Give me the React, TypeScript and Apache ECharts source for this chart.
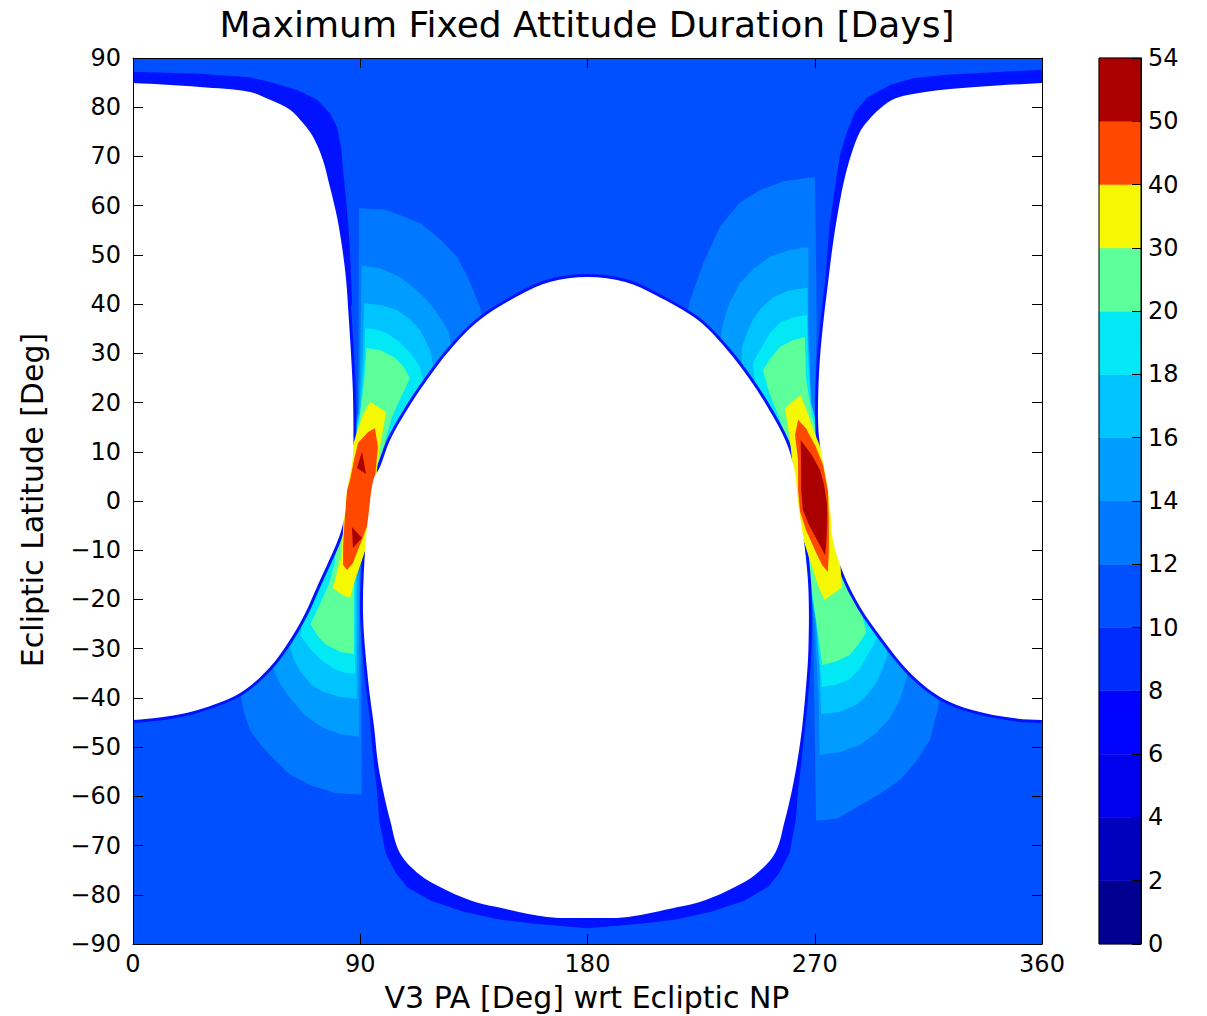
import React, { useEffect, useRef } from "react";
import * as echarts from "echarts";

// ---------- axis / colorbar data ----------
const xTicks = [0, 90, 180, 270, 360];
const yRange = [-90, 90];
const cbLabels = ["0", "2", "4", "6", "8", "10", "12", "14", "16", "18", "20", "30", "40", "50", "54"];
const levelColors = [
  "#000091", "#0000bf", "#0000ed", "#0004ff", "#002cff", "#0050ff", "#0078ff",
  "#009cff", "#00c4ff", "#02e8f4", "#5dff9a", "#f5f802", "#ff4900", "#aa0000",
];
const HALO = "#0012ff";

// ---------- contour region outlines (PA deg, latitude deg) ----------
const fullArea = [[0, -90], [360, -90], [360, 90], [0, 90]];

const whiteLeft = [
  [-5, 84.9], [0, 84.9], [26.5, 84.1], [46.3, 83.1], [54.3, 81.5], [62.2, 79.5], [67.3, 76.8], [71.3, 74.0],
  [75.2, 69.3], [78.0, 63.8], [80.8, 57.7], [82.8, 51.6], [84.4, 44.9], [85.5, 36.8], [86.5, 28.5],
  [87.1, 22], [87.3, 15], [87.1, 9], [86, 5.5], [84.8, 2.5], [84.3, 0], [84.0, -2.4], [82.7, -5.6],
  [80.5, -8.8], [77.2, -12.6], [73, -17.3], [68.1, -22.9], [62.2, -28.2], [54.3, -33.7], [42.4, -39.0],
  [25.3, -42.5], [11.9, -43.9], [0, -44.5], [-5, -44.5],
];
const whiteRight = [
  [365, 84.9], [360, 84.9], [333.5, 84.1], [313.7, 83.1], [302, 81.8], [296, 79.8], [291, 77.2], [287.9, 75.0],
  [284.5, 70.5], [281.5, 64.8], [279, 58.1], [277, 51.5], [275.3, 44.5], [273.5, 36.8], [272, 28.6],
  [271.3, 20], [271.5, 14], [272.5, 10], [274, 6], [275.2, 2.5], [275.7, 0], [276.2, -2.4],
  [277.2, -7.9], [281.2, -14.6], [287.9, -21.5], [297, -28.2], [307.7, -34.9], [319.6, -39.8],
  [332.7, -42.5], [348.5, -44.1], [360, -44.5], [365, -44.5],
];
const whiteCenter = [
  [180, -84.7], [164, -84.5], [144.2, -82.5], [133.5, -81.1], [121.6, -78.4], [113.7, -76.0],
  [105.7, -71.5], [101.8, -64.8], [99, -58.7], [97, -53.2], [95.5, -46], [93.1, -36.4], [91.1, -22.8],
  [92, -9.3], [93.5, -1.8], [95.2, 4.3], [97.8, 6.9], [101.8, 12.4], [108.5, 18.5], [116.4, 24.6],
  [125.5, 30.7], [137.4, 36.8], [153.3, 41.9], [165, 44.5], [180, 45.5], [195, 44.5], [206.7, 41.9],
  [223.6, 36.8], [235, 30.9], [244, 24.9], [252, 18.5], [258.6, 12.1], [262, 6.3], [263, 2],
  [263.8, -1.8], [266, -9.3], [267.5, -18], [267.5, -30], [266.5, -38], [265, -46], [263, -53.2],
  [261, -58.7], [258.2, -64.8], [254.3, -71.5], [246.3, -76.0], [238.4, -78.4], [226.5, -81.1],
  [215.8, -82.5], [196, -84.5],
];

const haloLeftTop = [
  [0, 87.2], [26.5, 86.8], [46.3, 86.1], [54.3, 85.1], [65.0, 83.5], [72.9, 81.5], [78.0, 78.8],
  [80.8, 76.0], [82.4, 71.9], [83.2, 67.2], [84.4, 61.2], [85.9, 51.6], [86.8, 40], [84, 38], [0, 80],
];
const haloRightTop = [
  [360, 87.6], [322.4, 86.6], [308.9, 85.9], [299.8, 84.5], [290.7, 81.9], [285.9, 79.0], [282.8, 75.0],
  [280, 70.3], [278, 63.6], [276, 56.7], [274.9, 50.0], [274.1, 43.3], [273, 38], [276, 38], [360, 80],
];
const haloCenterBottom = [
  [93.5, -40], [94, -46], [95.3, -53.2], [96.6, -58.7], [97.5, -64.8], [100, -71.5], [104, -75.5],
  [108.5, -78.4], [118, -81.2], [130.7, -83.4], [145, -85], [157.2, -85.8], [180, -86.8], [202.8, -85.8],
  [215, -85], [229.3, -83.4], [242, -81.2], [251.5, -78.4], [256, -75.5], [260, -71.5], [262.5, -64.8],
  [263.4, -58.7], [264.7, -53.2], [266, -46], [266.5, -40], [180, -40],
];

// filled regions: value >= 12, 14, 16, 18, 20 (left fan pair near PA 90)
const fanL12 = [
  [89.5, 59.5], [100, 59.2], [113.7, 56.5], [122, 53], [128.3, 49.6], [133, 45], [137.4, 39.4], [140, 33],
  [115, 12], [100, 0], [96, -10], [90.5, -12], [90.5, -59.7], [80, -59.3], [70.1, -57.7], [62, -55.5],
  [56.2, -52.6], [50.5, -49.5], [46.3, -46.5], [44, -43], [42.4, -39.0], [50, -30], [70, -10], [80, 0],
  [86, 10], [89, 18], [89.3, 30], [89.4, 45],
];
const fanL14 = [
  [90.5, 47.9], [98, 47.3], [105.7, 45.5], [112, 43], [117.6, 40.2], [122, 37], [124.8, 34.7], [127, 29],
  [108, 12], [98, 0], [95, -10], [89.6, -12], [89.6, -47.9], [82, -47.4], [75, -46], [68, -43.5],
  [62.4, -40.2], [58, -37], [55.4, -33.9], [60, -25], [75, -5], [83, 5], [86, 10], [89.3, 18], [90, 30],
];
const fanL16 = [
  [91.5, 40.2], [98, 39.8], [104.6, 38.8], [109.5, 37], [113.7, 34.7], [116, 32.5], [117.6, 30.7], [120, 25],
  [105, 10], [97, 0], [94.5, -10], [88.8, -12], [88.6, -40.2], [82, -39.8], [75.4, -38.8], [71, -37.5],
  [66.3, -34.7], [64, -32.5], [62.2, -29.7], [65, -22], [75, -5], [83, 5], [86, 10], [89.5, 18], [91, 30],
];
const fanL18 = [
  [92, 35.1], [96, 34.9], [100.6, 34.1], [105.5, 32.3], [109.7, 30.1], [113.7, 27.2], [116, 22], [103, 8],
  [96.5, 0], [94, -10], [88.2, -12], [88, -35.1], [84, -34.9], [79.4, -34.1], [74.5, -32.3], [70.3, -30.1],
  [66.3, -27.2], [69, -19], [76, -6], [83, 5], [86, 10], [90, 18], [91.5, 28],
];
const fanL20 = [
  [92.5, 31.1], [97.8, 30.7], [103.8, 29.1], [107, 27.3], [109.7, 25.0], [106, 21], [102.5, 17], [100, 12.5],
  [97, 2], [93.5, -10], [87.6, -13], [87.5, -31.1], [82.2, -30.7], [76.2, -29.1], [73, -27.3], [70.3, -25.0],
  [74, -21], [77.5, -17], [80, -12.5], [79, -2], [83, 5], [86.5, 10], [89.5, 16], [91.5, 24],
];
const yellowL = [
  [93.9, 20.1], [100.2, 18.1], [99.0, 14.4], [97.8, 11.0], [96.6, 6.3], [95.8, 0.2], [94.7, -3.9],
  [92.7, -8.9], [90.7, -12.0], [87.9, -16.1], [85.9, -19.7], [82.4, -18.9], [79.2, -17.7], [80.8, -14.4],
  [82.4, -11.0], [83.2, -5.9], [83.6, 0.2], [84.4, 5.3], [86.0, 9.3], [88.3, 13.4], [91.1, 17.5],
];
const orangeL = [
  [95.8, 14.8], [97.0, 11.0], [95.8, 4.3], [94.7, -2.4], [91.1, -7.3], [87.1, -12.6], [84.8, -14.0],
  [83.2, -13.0], [83.2, -9.3], [84.0, -2.4], [84.8, 2.2], [86.0, 4.3], [87.5, 8.3], [89.1, 11.8], [93.1, 14.0],
];
const redL1 = [[90.7, 10.0], [92.3, 5.5], [88.7, 6.7]];
const redL2 = [[86.7, -5.3], [90.7, -7.5], [87.1, -9.5]];

// right fan pair near PA 270
const fanR12 = [
  [270, 65.8], [258, 65], [248.3, 63.2], [240, 60.5], [232.5, 55.7], [226, 48.5], [220.6, 40.8], [218, 35],
  [250, 12], [260, 0], [265, -10], [268.5, -12], [269.5, -30], [270.5, -65], [279, -64.5], [287.9, -61.8],
  [296, -59.5], [303.8, -56.7], [310, -53], [315.6, -48.6], [318.4, -43], [319.4, -40.8], [310, -30],
  [285, -10], [277, 0], [273.5, 10], [270, 20], [270.8, 35], [270.5, 50],
];
const fanR14 = [
  [267.5, 51.6], [260, 51], [252.3, 49.6], [246, 47.3], [240.4, 44.3], [236, 40], [233.3, 35.4], [232, 30],
  [250, 10], [261, 0], [265.5, -10], [267.5, -14], [270, -25], [271.5, -40], [272, -51.6], [280, -51],
  [287.7, -49.6], [294, -47.3], [299.6, -44.3], [304, -40], [306.7, -35.4], [300, -25], [284, -10],
  [277, 0], [273.5, 10], [268.5, 20], [267.5, 35],
];
const fanR16 = [
  [267.2, 43.3], [260, 42.8], [253.5, 41.4], [249, 39.3], [245.5, 36.8], [243, 34], [241.2, 31.3], [241, 25],
  [252, 10], [261, 0], [265.5, -10], [267, -13], [270.5, -25], [272, -35], [272.5, -43.3], [280, -42.8],
  [286.5, -41.4], [291, -39.3], [294.5, -36.8], [297, -34], [298.8, -31.3], [295, -22], [283, -8],
  [277, 0], [273.5, 10], [268.5, 20], [267.2, 35],
];
const fanR18 = [
  [267, 37.8], [262, 37.4], [256.2, 36.2], [252, 34], [249.1, 31.3], [247, 29.5], [245.5, 28.0], [247, 20],
  [254, 8], [261, 0], [265.5, -10], [266.5, -12], [270.5, -24], [272.8, -37.8], [278, -37.4], [283.8, -36.2],
  [288, -34], [290.9, -31.3], [293, -29.5], [294.5, -28.0], [290, -18], [282, -6], [277, 0], [273.5, 10],
  [268.5, 20], [267.2, 30],
];
const fanR20 = [
  [266.1, 33.3], [261, 32.6], [256.2, 31.3], [252.5, 29], [249.5, 26.6], [252, 22], [255.5, 17.5],
  [258.5, 13], [262, 2], [265.5, -10], [268.5, -17], [270.5, -24], [273, -33.3], [278.5, -32.6],
  [283.8, -31.3], [287.5, -29], [290.5, -26.6], [288, -22], [284.5, -17.5], [281.5, -13], [278, 0],
  [274, 8], [269, 17], [266.5, 25],
];
const yellowR = [
  [264.4, 21.5], [266.7, 18.5], [269.5, 14.4], [273.5, 9.3], [276.8, 4.3], [278.4, -3.9], [280, -12.0],
  [280.8, -17.5], [273.8, -20.1], [271.3, -17.1], [268.1, -12.0], [264.2, -5.9], [262.2, 0.2], [261.4, 6.3],
  [260.2, 12.4], [258.2, 18.9],
];
const orangeR = [
  [263.4, 16.5], [266.5, 14.8], [270.1, 11.4], [273.3, 7.3], [275.2, 2.2], [275.6, -3.9], [275.6, -10.0],
  [275.2, -14.4], [272.9, -13.0], [270.1, -10.0], [266.5, -5.9], [264.2, -2.2], [263.4, 2.2], [263.4, 8.3],
  [262.2, 13.4],
];
const redR = [
  [264.4, 12.4], [268.9, 9.3], [272.1, 6.3], [273.7, 3.3], [274.9, -0.8], [274.9, -4.9], [274.5, -8.9],
  [274.1, -11.0], [270.9, -7.9], [267.7, -4.9], [265.3, -1.8], [264.6, 2.2], [264.6, 7.3],
];

type Layer = { pts: number[][]; fill?: string; stroke?: string; lw?: number; smooth?: number };
const C = levelColors;
const SM = 0.35;
const layers: Layer[] = [
  { pts: fullArea, fill: C[5] },
  { pts: haloLeftTop, fill: HALO },
  { pts: haloRightTop, fill: HALO },
  { pts: haloCenterBottom, fill: HALO },
  { pts: fanL12, fill: C[6] }, { pts: fanR12, fill: C[6] },
  { pts: fanL14, fill: C[7] }, { pts: fanR14, fill: C[7] },
  { pts: fanL16, fill: C[8] }, { pts: fanR16, fill: C[8] },
  { pts: fanL18, fill: C[9] }, { pts: fanR18, fill: C[9] },
  { pts: fanL20, fill: C[10] }, { pts: fanR20, fill: C[10] },
  { pts: whiteLeft, stroke: HALO, lw: 6, smooth: SM },
  { pts: whiteCenter, stroke: HALO, lw: 6, smooth: SM },
  { pts: whiteRight, stroke: HALO, lw: 6, smooth: SM },
  { pts: yellowL, fill: C[11] }, { pts: yellowR, fill: C[11] },
  { pts: orangeL, fill: C[12] }, { pts: orangeR, fill: C[12] },
  { pts: redL1, fill: C[13] }, { pts: redL2, fill: C[13] }, { pts: redR, fill: C[13] },
  { pts: whiteLeft, fill: "#ffffff", smooth: SM },
  { pts: whiteCenter, fill: "#ffffff", smooth: SM },
  { pts: whiteRight, fill: "#ffffff", smooth: SM },
];

const FONT = "DejaVu Sans";
const fmtMinus = (v: number) => (v < 0 ? "\u2212" + Math.abs(v) : String(v));

export default function App() {
  const ref = useRef<HTMLDivElement>(null);
  useEffect(() => {
    if (!ref.current) return;
    const chart = echarts.init(ref.current, undefined, { renderer: "svg" });
    const axisLineStyle = { show: true, onZero: false, lineStyle: { color: "#000", width: 1 } };
    const tickStyle = { show: true, inside: true, length: 10, lineStyle: { color: "#000", width: 1 } };
    const labelStyle = { color: "#000", fontSize: 24, fontFamily: FONT };
    chart.setOption({
      animation: false,
      backgroundColor: "#ffffff",
      grid: [
        { left: 133, top: 58, width: 909, height: 886 },
        { left: 1099, top: 58, width: 42, height: 886 },
      ],
      xAxis: [
        {
          gridIndex: 0, type: "value", min: xTicks[0], max: xTicks[xTicks.length - 1], interval: 90,
          position: "bottom", z: 10, axisLine: axisLineStyle, axisTick: tickStyle,
          axisLabel: { ...labelStyle, margin: 8 }, splitLine: { show: false },
        },
        {
          gridIndex: 0, type: "value", min: xTicks[0], max: xTicks[xTicks.length - 1], interval: 90,
          position: "top", z: 10, axisLine: axisLineStyle, axisTick: tickStyle,
          axisLabel: { show: false }, splitLine: { show: false },
        },
        { gridIndex: 1, type: "value", min: 0, max: 1, show: false },
      ],
      yAxis: [
        {
          gridIndex: 0, type: "value", min: yRange[0], max: yRange[1], interval: 10,
          position: "left", z: 10, axisLine: axisLineStyle, axisTick: tickStyle,
          axisLabel: { ...labelStyle, margin: 12, formatter: fmtMinus }, splitLine: { show: false },
        },
        {
          gridIndex: 0, type: "value", min: yRange[0], max: yRange[1], interval: 10,
          position: "right", z: 10, axisLine: axisLineStyle, axisTick: tickStyle,
          axisLabel: { show: false }, splitLine: { show: false },
        },
        {
          gridIndex: 1, type: "value", min: 0, max: cbLabels.length - 1, interval: 1,
          position: "right", z: 10, axisLine: axisLineStyle,
          axisTick: { ...tickStyle, length: 9 },
          axisLabel: { ...labelStyle, margin: 7, formatter: (v: number) => cbLabels[v] ?? "" },
          splitLine: { show: false },
        },
      ],
      series: [
        {
          type: "custom",
          xAxisIndex: 0,
          yAxisIndex: 0,
          clip: true,
          silent: true,
          data: layers.map((l) => [Math.max(0, Math.min(360, l.pts[0][0])), l.pts[0][1]]),
          renderItem: (params: any, api: any) => {
            const L = layers[params.dataIndex];
            const points = L.pts.map((p) => api.coord(p));
            return {
              type: "polygon",
              shape: { points, smooth: L.smooth ?? 0 },
              style: {
                fill: L.fill ?? "none",
                stroke: L.stroke ?? "none",
                lineWidth: L.lw ?? 0,
                lineJoin: "round",
              },
            };
          },
        },
        {
          type: "custom",
          xAxisIndex: 2,
          yAxisIndex: 2,
          silent: true,
          data: levelColors.map((_, i) => [0, i]),
          renderItem: (params: any, api: any) => {
            const i = params.dataIndex;
            const p0 = api.coord([0, i]);
            const p1 = api.coord([1, i + 1]);
            return {
              type: "rect",
              shape: { x: p0[0], y: p1[1], width: p1[0] - p0[0], height: p0[1] - p1[1] },
              style: { fill: levelColors[i], stroke: levelColors[i], lineWidth: 0.5 },
            };
          },
        },
        {
          type: "custom",
          xAxisIndex: 2,
          yAxisIndex: 2,
          silent: true,
          z: 5,
          data: [[0, 0]],
          renderItem: (_params: any, api: any) => {
            const p0 = api.coord([0, 0]);
            const p1 = api.coord([1, cbLabels.length - 1]);
            return {
              type: "rect",
              shape: { x: p0[0], y: p1[1], width: p1[0] - p0[0], height: p0[1] - p1[1] },
              style: { fill: "none", stroke: "#000", lineWidth: 1 },
            };
          },
        },
      ],
      graphic: [
        {
          type: "text", x: 587, y: 24, silent: true,
          style: {
            text: "Maximum Fixed Attitude Duration [Days]", fontSize: 36, fontFamily: FONT,
            fill: "#000", textAlign: "center", textVerticalAlign: "middle",
          },
        },
        {
          type: "text", x: 587, y: 997, silent: true,
          style: {
            text: "V3 PA [Deg] wrt Ecliptic NP", fontSize: 30, fontFamily: FONT,
            fill: "#000", textAlign: "center", textVerticalAlign: "middle",
          },
        },
        {
          type: "text", x: 32, y: 500, rotation: Math.PI / 2, silent: true,
          style: {
            text: "Ecliptic Latitude [Deg]", fontSize: 30, fontFamily: FONT,
            fill: "#000", textAlign: "center", textVerticalAlign: "middle",
          },
        },
      ],
    });
    return () => chart.dispose();
  }, []);
  return (
    <div
      ref={ref}
      style={{ position: "fixed", left: 0, top: 0, width: 1207, height: 1016, background: "#fff" }}
    />
  );
}
